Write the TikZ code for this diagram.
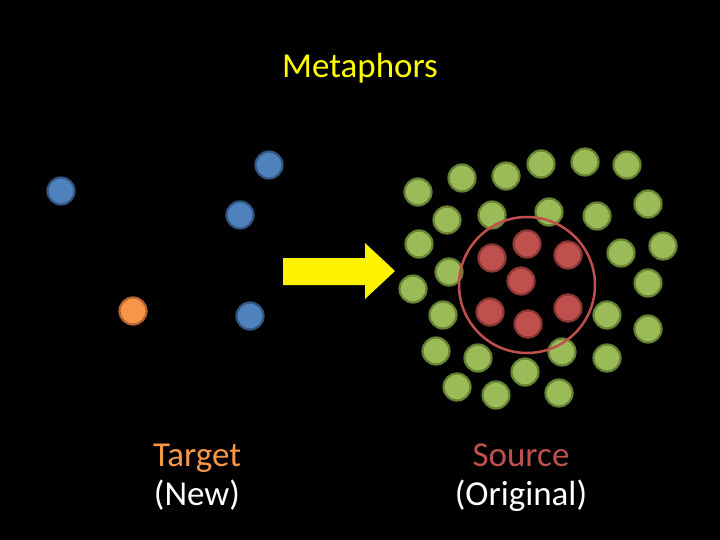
\documentclass[tikz,border=0pt]{standalone}
\usepackage{fontspec}
\setmainfont{Carlito}
\begin{document}
\begin{tikzpicture}[x=1pt,y=-1pt,
 g/.style={circle,minimum size=27pt,inner sep=0,fill={rgb,255:red,155;green,187;blue,89},draw={rgb,255:red,100;green,130;blue,50},line width=2.2pt},
 r/.style={circle,minimum size=27pt,inner sep=0,fill={rgb,255:red,192;green,80;blue,77},draw={rgb,255:red,140;green,55;blue,52},line width=2.2pt},
 b/.style={circle,minimum size=27pt,inner sep=0,fill={rgb,255:red,79;green,129;blue,189},draw={rgb,255:red,50;green,85;blue,130},line width=2.2pt},
 o/.style={circle,minimum size=27pt,inner sep=0,fill={rgb,255:red,247;green,150;blue,70},draw={rgb,255:red,180;green,100;blue,50},line width=2.2pt},
 lbl/.style={font=\fontsize{35}{38}\selectfont,align=center}]
\fill[black] (0,0) rectangle (720,540);
\useasboundingbox (0,0) rectangle (720,540);
\node[lbl,text={rgb,255:red,255;green,255;blue,0}] (title) at (360,68) {Metaphors};
\foreach \x/\y [count=\i] in {418/192,462/178,506/176,541/164,585/162,627/165,648/204,447/220,492/215,549/212,597/216,419/244,663/246,621/253,449/272,413/289,648/283,443/315,607/315,648/329,436/351,478/358,562/352,607/358,525/372,457/387,496/395,559/393}
  \node[g] (g\i) at (\x,\y) {};
\foreach \x/\y [count=\i] in {492/258,527/244,568/255,521/281,490/312,528/324,568/308}
  \node[r] (r\i) at (\x,\y) {};
\node[circle,minimum size=136pt,draw={rgb,255:red,192;green,80;blue,77},line width=2.5pt] (ring) at (527,285) {};
\foreach \x/\y [count=\i] in {61/191,269/165,240/215,250/316}
  \node[b] (b\i) at (\x,\y) {};
\node[o] (o1) at (133,311) {};
\fill[yellow] (283,258) -- (365,258) -- (365,243) -- (395,271) -- (365,299) -- (365,285) -- (283,285) -- cycle;
\node[lbl,text={rgb,255:red,247;green,150;blue,70},anchor=base] (t1) at (197,466) {Target};
\node[lbl,text=white,anchor=base] (t2) at (197,505) {(New)};
\node[lbl,text={rgb,255:red,192;green,80;blue,77},anchor=base] (s1) at (521,466) {Source};
\node[lbl,text=white,anchor=base] (s2) at (521,505) {(Original)};
\end{tikzpicture}
\end{document}
